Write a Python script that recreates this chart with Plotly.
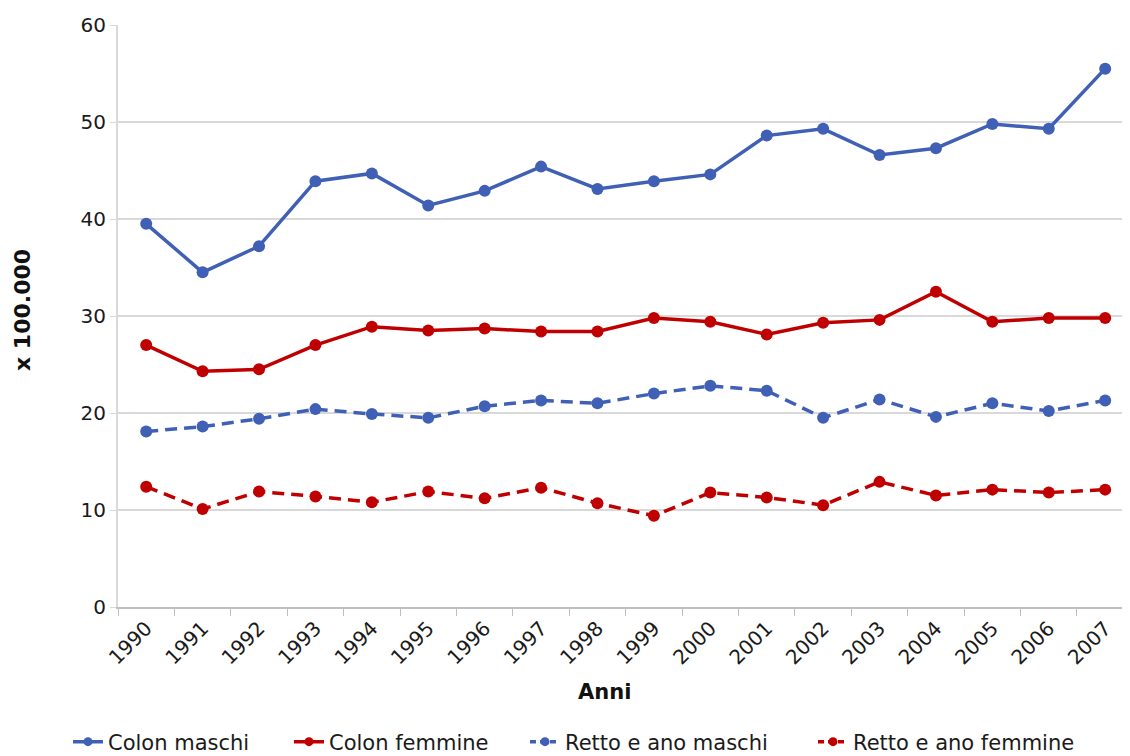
import plotly.graph_objects as go

years = [str(y) for y in range(1990, 2008)]
colon_maschi = [39.5, 34.5, 37.2, 43.9, 44.7, 41.4, 42.9, 45.4, 43.1, 43.9, 44.6, 48.6, 49.3, 46.6, 47.3, 49.8, 49.3, 55.5]
colon_femmine = [27.0, 24.3, 24.5, 27.0, 28.9, 28.5, 28.7, 28.4, 28.4, 29.8, 29.4, 28.1, 29.3, 29.6, 32.5, 29.4, 29.8, 29.8]
retto_maschi = [18.1, 18.6, 19.4, 20.4, 19.9, 19.5, 20.7, 21.3, 21.0, 22.0, 22.8, 22.3, 19.5, 21.4, 19.6, 21.0, 20.2, 21.3]
retto_femmine = [12.4, 10.1, 11.9, 11.4, 10.8, 11.9, 11.2, 12.3, 10.7, 9.4, 11.8, 11.3, 10.5, 12.9, 11.5, 12.1, 11.8, 12.1]

BLUE = "#3F60B4"
RED = "#C00000"
FONT = "DejaVu Sans"
TXT = "#1a1a1a"

series = [
    ("Colon maschi", colon_maschi, BLUE, "solid", "solid"),
    ("Colon femmine", colon_femmine, RED, "solid", "solid"),
    ("Retto e ano maschi", retto_maschi, BLUE, "12px,7px", "6px,4px"),
    ("Retto e ano femmine", retto_femmine, RED, "12px,7px", "6px,4px"),
]

# page has an 8px body offset
W, H = 1122, 748
T, B, L, R = 17, 149, 110, 0
plot_h = H - T - B
plot_w = W - L - R
OFF = 8

def px_x(page_x):
    return (page_x - OFF - L) / plot_w

def px_y(page_y):
    return (H - B - (page_y - OFF)) / plot_h

legend_names = ["legend", "legend2", "legend3", "legend4"]
legend_text_start = [108, 329, 565, 853]

fig = go.Figure()
for (name, vals, col, dash, ldash), lg in zip(series, legend_names):
    fig.add_trace(go.Scatter(
        x=years, y=vals, name=name, mode="lines+markers",
        line=dict(color=col, width=3.5, dash=dash),
        marker=dict(color=col, size=12, symbol="circle"),
        showlegend=False,
    ))
    # legend entry (smaller marker, shorter dashes as in the reference legend)
    fig.add_trace(go.Scatter(
        x=[None], y=[None], name=name, mode="lines+markers",
        line=dict(color=col, width=3.5, dash=ldash),
        marker=dict(color=col, size=9, symbol="circle"),
        legend=lg, hoverinfo="skip",
    ))

legends = {}
for lg, ts in zip(legend_names, legend_text_start):
    legends[lg] = dict(orientation="h", x=px_x(ts - 40), xanchor="left",
                       y=px_y(742), yanchor="middle",
                       font=dict(family=FONT, size=21, color=TXT),
                       itemwidth=30, borderwidth=0, bgcolor="rgba(0,0,0,0)")

fig.update_layout(
    width=W, height=H,
    margin=dict(l=L, r=R, t=T, b=B, autoexpand=False),
    plot_bgcolor="white", paper_bgcolor="white",
    font=dict(family=FONT, size=20, color=TXT),
    showlegend=True,
    **legends,
    xaxis=dict(
        type="category", range=[-0.5, 17.44], automargin=False,
        tickangle=-45, tickfont=dict(family=FONT, size=20, color=TXT),
        showgrid=False, showline=True, linecolor="#BFBFBF", linewidth=1.5,
        ticks="outside", tickson="boundaries", ticklen=7, tickcolor="#BFBFBF",
    ),
    yaxis=dict(
        range=[0, 60], dtick=10, automargin=False,
        tickfont=dict(family=FONT, size=20, color=TXT),
        showgrid=True, gridcolor="#D9D9D9", gridwidth=1.5,
        showline=True, linecolor="#D9D9D9", linewidth=2,
        ticks="outside", ticklen=6, tickcolor="#D9D9D9",
        zeroline=False,
    ),
    annotations=[
        dict(text="<b>Anni</b>", xref="paper", yref="paper",
             x=px_x(604), y=px_y(692),
             xanchor="center", yanchor="middle", showarrow=False,
             font=dict(family=FONT, size=21, color="#111111")),
        dict(text="<b>x 100.000</b>", xref="paper", yref="paper",
             x=px_x(22), y=px_y(310),
             xanchor="center", yanchor="middle", textangle=-90, showarrow=False,
             font=dict(family=FONT, size=22, color="#111111")),
    ],
)

fig.write_html("out.html")
